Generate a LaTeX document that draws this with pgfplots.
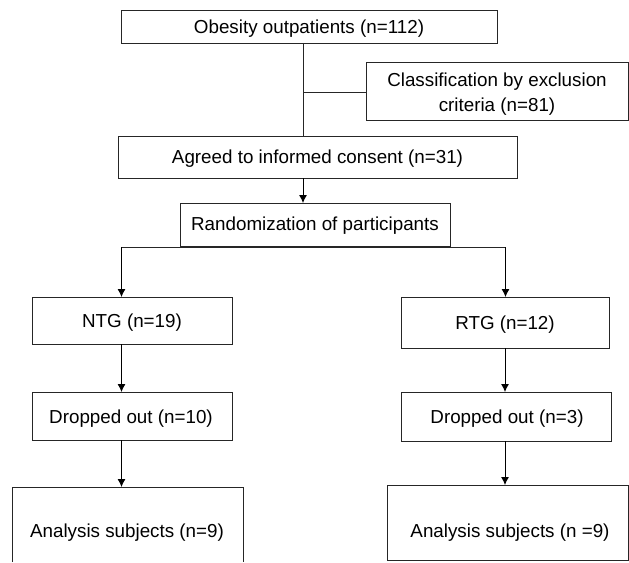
\documentclass[border=0pt]{standalone}
\usepackage{pgfplots}
\pgfplotsset{compat=1.18}
\usetikzlibrary{arrows.meta}
\usepackage{fontspec}
\setmainfont{Liberation Sans}
\begin{document}
\begin{tikzpicture}[
  bx/.style={line width=0.9bp, draw=black!85, solid, mark=none, line join=miter},
  ar/.style={line width=0.9bp, draw=black, solid, mark=none, -{Latex[length=8bp,width=8bp]}},
]
\begin{axis}[
  width=629bp, height=562bp, scale only axis,
  xmin=0, xmax=629, ymin=0, ymax=562, y dir=reverse,
  hide axis, clip=false,
  nodes={font=\fontsize{18.8bp}{25bp}\selectfont, text=black, align=center, inner sep=0pt},
]
\addplot[draw=none, mark=none] coordinates {(0,0) (629,562)};
% boxes
\addplot[bx] coordinates {(121,10) (497,10) (497,43) (121,43) (121,10) (497,10)};
\addplot[bx] coordinates {(366,62) (628,62) (628,120) (366,120) (366,62) (628,62)};
\addplot[bx] coordinates {(118,136) (517,136) (517,178) (118,178) (118,136) (517,136)};
\addplot[bx] coordinates {(180,203) (450,203) (450,246) (180,246) (180,203) (450,203)};
\addplot[bx] coordinates {(32,297) (232,297) (232,344) (32,344) (32,297) (232,297)};
\addplot[bx] coordinates {(401,297) (609,297) (609,348) (401,348) (401,297) (609,297)};
\addplot[bx] coordinates {(32,392) (232,392) (232,440) (32,440) (32,392) (232,392)};
\addplot[bx] coordinates {(401,392) (611,392) (611,441) (401,441) (401,392) (611,392)};
\addplot[bx] coordinates {(12,562) (12,487) (243,487) (243,562)};
\addplot[bx] coordinates {(387,485) (628,485) (628,560) (387,560) (387,485) (628,485)};
% connectors
\addplot[bx] coordinates {(303,43) (303,136)};
\addplot[bx] coordinates {(303,92) (366,92)};
\addplot[bx] coordinates {(121.5,247) (505.5,247)};
% arrows
\addplot[ar] coordinates {(303,178) (303,203)};
\addplot[ar] coordinates {(121.5,247) (121.5,297)};
\addplot[ar] coordinates {(505.5,247) (505.5,297)};
\addplot[ar] coordinates {(121.5,344) (121.5,392)};
\addplot[ar] coordinates {(121.5,440) (121.5,487)};
\addplot[ar] coordinates {(505,348) (505,392)};
\addplot[ar] coordinates {(505,441) (505,485)};
% texts
\node at (axis cs:309,29) {Obesity outpatients (n=112)};
\node at (axis cs:497,94.5) {Classification by exclusion\\criteria (n=81)};
\node at (axis cs:317.5,159) {Agreed to informed consent (n=31)};
\node at (axis cs:315,226) {Randomization of participants};
\node at (axis cs:132,323) {NTG (n=19)};
\node at (axis cs:505,324.5) {RTG (n=12)};
\node at (axis cs:131,418.5) {Dropped out (n=10)};
\node at (axis cs:507,418.5) {Dropped out (n=3)};
\node at (axis cs:127,533) {Analysis subjects (n=9)};
\node at (axis cs:510,533) {Analysis subjects (n =9)};
\end{axis}
\end{tikzpicture}
\end{document}
